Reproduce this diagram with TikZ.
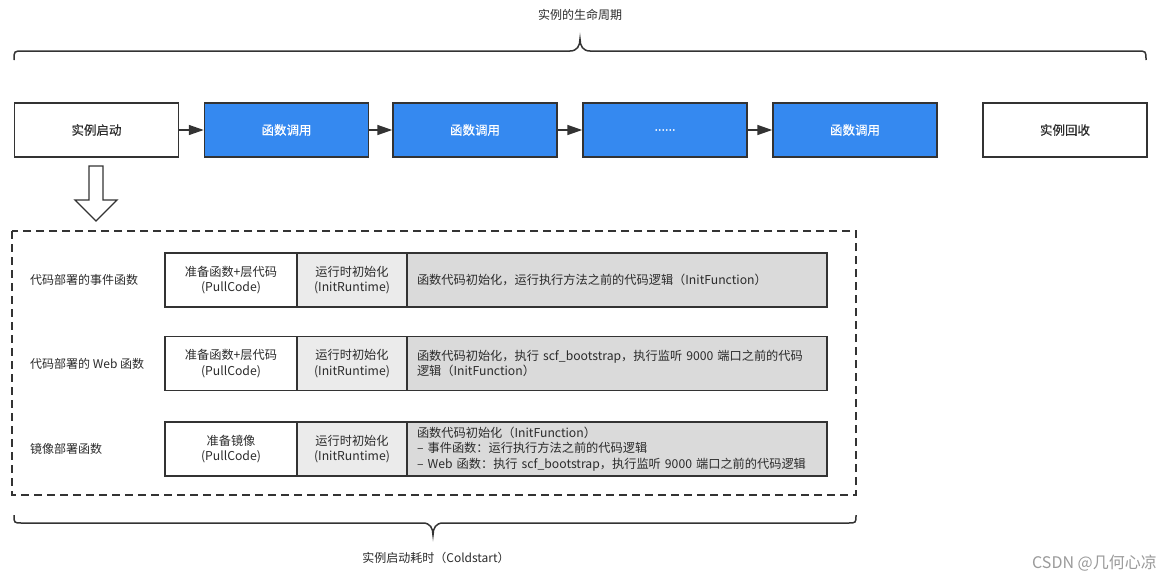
\documentclass[tikz,border=0pt]{standalone}
\usepackage{fontspec}
\setmainfont{Noto Sans CJK SC}
\newfontfamily\semibold[FakeBold=0.5]{Noto Sans CJK SC}
\usetikzlibrary{arrows.meta}
\definecolor{ink}{HTML}{333333}
\definecolor{txt}{HTML}{2B2B2B}
\definecolor{blueb}{HTML}{3589F0}
\definecolor{graya}{HTML}{EBEBEB}
\definecolor{grayb}{HTML}{DADADA}
\definecolor{wm}{HTML}{9A9A9A}
\tikzset{
  lifebox/.style={draw=ink, line width=1.5pt, minimum width=164pt, minimum height=54pt, inner sep=0pt, font=\semibold\fontsize{12.5}{15}\selectfont, text=txt},
  callbox/.style={lifebox, fill=blueb, text=white},
  flow/.style={draw=ink, line width=1.5pt, -{Triangle[length=15pt,width=10pt]}},
  cell/.style={draw=ink, line width=1.5pt, minimum height=54pt, inner sep=0pt, align=center, text=txt, font=\fontsize{12.2}{15.5}\selectfont},
  pullcell/.style={cell, fill=white, minimum width=132pt},
  rtcell/.style={cell, fill=graya, minimum width=110pt},
  fncell/.style={cell, fill=grayb, text width=400pt, inner xsep=10pt, align=left},
  rowlabel/.style={anchor=west, text=txt, inner sep=0pt},
  brace/.style={draw=ink, line width=1.5pt},
  plain/.style={text=txt, inner sep=0pt}
}
\begin{document}
\begin{tikzpicture}[x=1pt, y=-1pt, font=\fontsize{12}{15}\selectfont]
\useasboundingbox[fill=white] (0,0) rectangle (1173,581);

% title and top brace
\node[plain] (title) at (580,15) {实例的生命周期};
\draw[brace] (14,60) .. controls (14,51) .. (23,51) -- (570,51)
  .. controls (577,51) and (580,46) .. (580,39)
  .. controls (580,46) and (583,51) .. (590,51) -- (1137,51)
  .. controls (1146,51) .. (1146,60);

% lifecycle row
\node[lifebox] (b1) at (96.5,130) {实例启动};
\node[callbox] (b2) at (286.5,130) {函数调用};
\node[callbox] (b3) at (475,130) {函数调用};
\node[callbox] (b4) at (665,130) {......};
\node[callbox] (b5) at (855,130) {函数调用};
\node[lifebox] (b6) at (1065,130) {实例回收};
\draw[flow] (b1) -- (b2);
\draw[flow] (b2) -- (b3);
\draw[flow] (b3) -- (b4);
\draw[flow] (b4) -- (b5);

% hollow down arrow
\draw[draw=ink, line width=1.3pt, fill=white, line join=miter]
  (89,166) -- (103,166) -- (103,200) -- (117,200) -- (96,221) -- (75,200) -- (89,200) -- cycle;

% dashed frame
\draw[draw=ink, line width=1.5pt, dash pattern=on 8pt off 5pt] (12,231) rectangle (856,495);

% row 1
\node[rowlabel] (l1) at (30,280) {代码部署的事件函数};
\node[pullcell] (p1) at (231,280) {准备函数+层代码\\(PullCode)};
\node[rtcell] (r1) at (352,280) {运行时初始化\\(InitRuntime)};
\node[fncell] (f1) at (617,280) {函数代码初始化，运行执行方法之前的代码逻辑（InitFunction）};

% row 2
\node[rowlabel] (l2) at (30,364) {代码部署的 Web 函数};
\node[pullcell] (p2) at (231,363.5) {准备函数+层代码\\(PullCode)};
\node[rtcell] (r2) at (352,363.5) {运行时初始化\\(InitRuntime)};
\node[fncell] (f2) at (617,363.5) {函数代码初始化，执行 scf\_bootstrap，执行监听 9000 端口之前的代码\\逻辑（InitFunction）};

% row 3
\node[rowlabel] (l3) at (30,449) {镜像部署函数};
\node[pullcell] (p3) at (231,449) {准备镜像\\(PullCode)};
\node[rtcell] (r3) at (352,449) {运行时初始化\\(InitRuntime)};
\node[fncell] (f3) at (617,449) {函数代码初始化（InitFunction）\\– 事件函数：运行执行方法之前的代码逻辑\\– Web 函数：执行 scf\_bootstrap，执行监听 9000 端口之前的代码逻辑};

% bottom brace and label
\draw[brace] (14,515) .. controls (14,523) .. (22,523) -- (423,523)
  .. controls (430,523) and (433,528) .. (433,535)
  .. controls (433,528) and (436,523) .. (443,523) -- (848,523)
  .. controls (856,523) .. (856,515);
\node[plain] (cold) at (436,558) {实例启动耗时（Coldstart）};

% watermark
\node[anchor=east, text=wm, inner sep=0pt, font=\fontsize{16}{19}\selectfont] (mark) at (1157,563) {CSDN @几何心凉};
\end{tikzpicture}
\end{document}
